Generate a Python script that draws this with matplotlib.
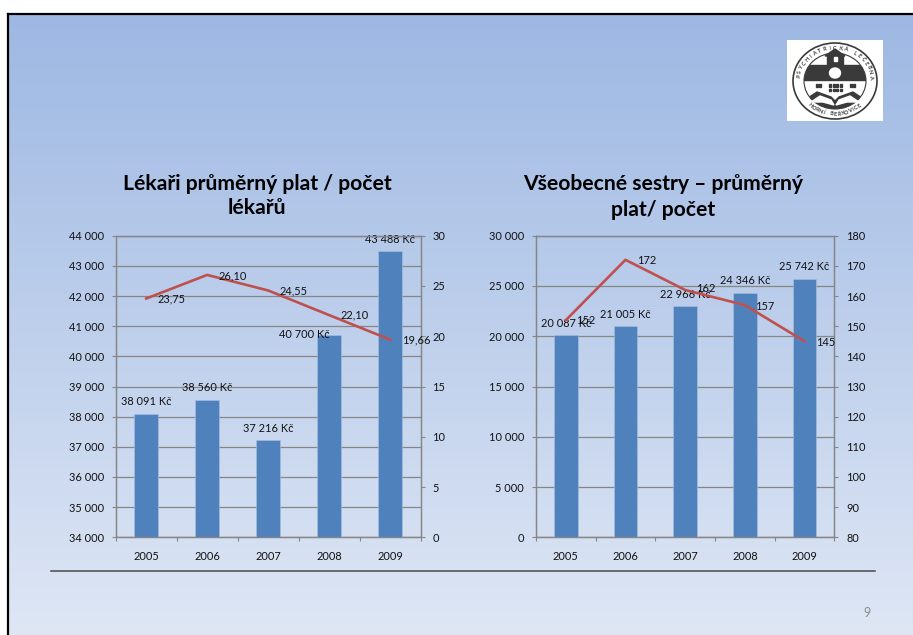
import numpy as np
import matplotlib
matplotlib.use('Agg')
from matplotlib import pyplot as plt
from matplotlib.patches import Ellipse, Rectangle, Polygon

W, H = 913, 635

years = ['2005', '2006', '2007', '2008', '2009']

# left chart
doctor_pay = [38091, 38560, 37216, 40700, 43488]
doctor_pay_labels = ['38 091 Kč', '38 560 Kč', '37 216 Kč', '40 700 Kč', '43 488 Kč']
doctor_count = [23.75, 26.10, 24.55, 22.10, 19.66]
doctor_count_labels = ['23,75', '26,10', '24,55', '22,10', '19,66']
doctor_left_ticks = [34000, 35000, 36000, 37000, 38000, 39000, 40000, 41000, 42000, 43000, 44000]
doctor_right_ticks = [0, 5, 10, 15, 20, 25, 30]

# right chart
nurse_pay = [20087, 21005, 22966, 24346, 25742]
nurse_pay_labels = ['20 087 Kč', '21 005 Kč', '22 966 Kč', '24 346 Kč', '25 742 Kč']
nurse_count = [152, 172, 162, 157, 145]
nurse_count_labels = ['152', '172', '162', '157', '145']
nurse_left_ticks = [0, 5000, 10000, 15000, 20000, 25000, 30000]
nurse_right_ticks = [80, 90, 100, 110, 120, 130, 140, 150, 160, 170, 180]

BLUE = '#4f81bd'
RED = '#c0504d'
GREY = '#868686'
DARK = '#3a3a3a'
TICK_SIZE = 7.9

plt.rcParams['font.family'] = ['Lato', 'DejaVu Sans']


def px_axes(fig, x0, y0, x1, y1):
    # axes from pixel box, y measured from the top of the picture
    return fig.add_axes([x0 / W, 1 - y1 / H, (x1 - x0) / W, (y1 - y0) / H])


def fmt(v):
    return f'{v:,}'.replace(',', ' ')


def combo(box, title, title_xy, pay, pay_labels, count, count_labels,
          lticks, rticks, pay_off, count_off):
    ax = px_axes(fig, *box)
    ax.patch.set_alpha(0)
    x = np.arange(len(years))
    ax.bar(x, pay, width=0.4, color=BLUE, edgecolor='#a9c0de', linewidth=0.4, zorder=3)
    ax.set_xlim(-0.5, 4.5)
    ax.set_ylim(lticks[0], lticks[-1])
    ax.set_yticks(lticks)
    ax.set_yticklabels([fmt(t) for t in lticks], fontsize=TICK_SIZE, color='#111111')
    ax.set_xticks(np.arange(-0.5, 5, 1))
    ax.set_xticklabels([])
    ax.set_xticks(x, minor=True)
    ax.set_xticklabels(years, minor=True, fontsize=TICK_SIZE, color='#111111')
    ax.tick_params(axis='x', which='minor', length=0, pad=10)
    ax.tick_params(axis='x', which='major', length=3, color=GREY, width=0.8)
    ax.tick_params(axis='y', length=3, color=GREY, width=0.8, pad=5.5)
    ax.grid(axis='y', color=GREY, linewidth=0.9, zorder=1)
    ax.set_axisbelow(True)

    ax2 = ax.twinx()
    ax2.plot(x, count, color=RED, linewidth=1.9, zorder=5)
    ax2.set_ylim(rticks[0], rticks[-1])
    ax2.set_yticks(rticks)
    ax2.set_yticklabels([str(t) for t in rticks], fontsize=TICK_SIZE, color='#111111')
    ax2.tick_params(axis='y', length=3, color=GREY, width=0.8, pad=5.5)
    for a in (ax, ax2):
        for s in a.spines.values():
            s.set_color(GREY)
            s.set_linewidth(0.9)

    for i in range(len(years)):
        ax.annotate(pay_labels[i], (x[i], pay[i]), xytext=pay_off[i], textcoords='offset pixels',
                    ha='center', va='center', fontsize=TICK_SIZE, color='#111111', zorder=6,
                    annotation_clip=False)
        ax2.annotate(count_labels[i], (x[i], count[i]), xytext=count_off[i], textcoords='offset pixels',
                     ha='center', va='center', fontsize=TICK_SIZE, color='#111111', zorder=6,
                     annotation_clip=False)

    for line, dy in zip(title.split('\n'), [0, title_xy[2]]):
        fig.text(title_xy[0] / W, 1 - (title_xy[1] + dy) / H, line, ha='center', va='center',
                 fontsize=15.2, fontweight='bold', color='black')


def arc_text(ax, text, cx, cy, rx, ry, start, end, flip=False):
    # one letter at a time along an ellipse, angles in degrees from the top
    for ch, a in zip(text, np.linspace(start, end, len(text))):
        t = np.radians(a)
        px = cx + rx * np.sin(t)
        py = cy - ry * np.cos(t)
        ax.text(px, py, ch, ha='center', va='center', fontsize=4, fontweight='bold',
                color=DARK, rotation=(-a + 180 if flip else -a))


fig = plt.figure(figsize=(W / 100, H / 100), dpi=100, facecolor='white')

# slide background with gradient, black border only left and top
bg = px_axes(fig, 8, 14, W + 5, H + 5)
grad = np.linspace(0, 1, 256).reshape(-1, 1)
top = np.array([0x9d, 0xb8, 0xe3])
bottom = np.array([0xdf, 0xe7, 0xf5])
img = (top + (bottom - top) * grad[..., None]) / 255
bg.imshow(img, aspect='auto', extent=[0, 1, 0, 1], zorder=0)
bg.set_xticks([])
bg.set_yticks([])
for s in bg.spines.values():
    s.set_color('black')
    s.set_linewidth(1.6)

combo((115.7, 235.7, 420.7, 537.3), 'Lékaři průměrný plat / počet\nlékařů', (257, 184, 24),
      doctor_pay, doctor_pay_labels, doctor_count, doctor_count_labels,
      doctor_left_ticks, doctor_right_ticks,
      [(0, 12), (0, 12), (0, 12), (-25, 1), (0, 12)],
      [(25, 0), (25, -1), (25, 0), (25, 0), (26, 0)])

combo((536, 235.7, 834.3, 537.3), 'Všeobecné sestry – průměrný\nplat/ počet', (663, 184, 26),
      nurse_pay, nurse_pay_labels, nurse_count, nurse_count_labels,
      nurse_left_ticks, nurse_right_ticks,
      [(0, 12), (0, 12), (0, 12), (0, 12), (0, 12)],
      [(20, 0), (21, -1), (21, 1), (20, -1), (21, -1)])

# rule under the charts and page number
fig.add_artist(plt.Line2D([51 / W, 875 / W], [1 - 570.7 / H, 1 - 570.7 / H], color='#4a4a4a', linewidth=1.1))
fig.text(866.5 / W, 1 - 613 / H, '9', ha='center', va='center', fontsize=9, color='#8c8c8c')

# hospital logo on white square
logo = px_axes(fig, 787, 40, 883, 121)
logo.set_xlim(0, 96)
logo.set_ylim(81, 0)
logo.axis('off')
logo.add_patch(Rectangle((0, 0), 96, 81, color='white'))
cx, cy = 48, 41
logo.add_patch(Ellipse((cx, cy), 84, 76, facecolor='none', edgecolor=DARK, linewidth=1.2))
inner = Ellipse((cx, cy), 62, 56, facecolor='white', edgecolor=DARK, linewidth=0.8)
logo.add_patch(inner)
band = Rectangle((10, 25), 76, 15, color=DARK)
logo.add_patch(band)
band.set_clip_path(inner)
logo.add_patch(Rectangle((40, 15), 16, 12, color=DARK))
logo.add_patch(Polygon([(38, 16), (48, 9), (58, 16)], color=DARK))
logo.add_patch(Ellipse((48, 33), 11, 10, color='white'))
logo.add_patch(Rectangle((46.5, 17), 3, 4, color='white'))
for wx in [29, 32, 42, 45.5, 49, 52.5, 63, 66]:
    logo.add_patch(Rectangle((wx, 44), 2, 3, color=DARK))
    if 42 <= wx <= 53:
        logo.add_patch(Rectangle((wx, 48.5), 2, 2.5, color=DARK))
low = Polygon([(18, 60), (30, 52), (44, 57), (48, 61), (52, 57), (66, 52), (78, 60), (78, 72), (18, 72)],
              color=DARK)
logo.add_patch(low)
low.set_clip_path(inner)
for pts in ([(24, 62), (33, 56), (44, 60), (47, 65), (36, 62)], [(72, 62), (63, 56), (52, 60), (49, 65), (60, 62)]):
    logo.add_patch(Polygon(pts, color='white'))
arc_text(logo, 'PSYCHIATRICKÁ LÉČEBNA', cx, cy, 36.5, 33, -82, 82)
arc_text(logo, 'HORNÍ BEŘKOVICE', cx, cy, 36.5, 33, 222, 138, flip=True)

fig.savefig('out.png', dpi=100)
